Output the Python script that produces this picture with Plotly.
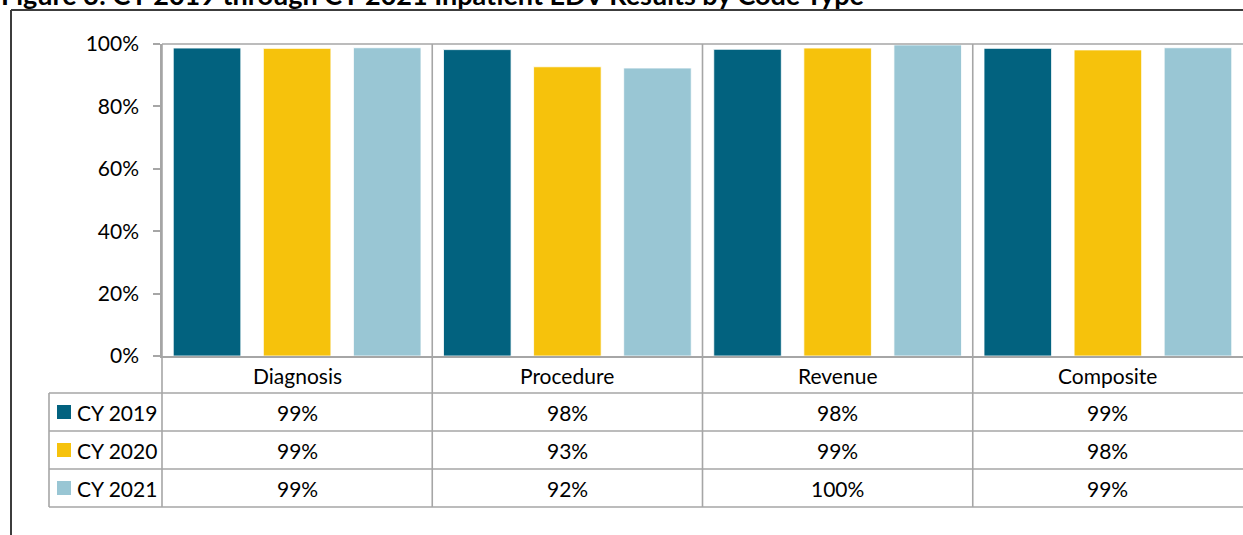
import plotly.graph_objects as go

# data
categories = ["Diagnosis", "Procedure", "Revenue", "Composite"]
series_names = ["CY 2019", "CY 2020", "CY 2021"]
cy2019 = [98.7, 98.2, 98.3, 98.6]
cy2020 = [98.6, 92.7, 98.7, 98.1]
cy2021 = [98.8, 92.3, 99.7, 98.8]
colors = ["#02627F", "#F6C20C", "#99C6D4"]
title = "Figure 3: CY 2019 through CY 2021 Inpatient EDV Results by Code Type"

W, H = 1243, 535
L, R, T, B = 162, 0, 44, 356   # plot area in pixels
FONT = "Lato"
FS = 21
GRID = "#A6A6A6"


def px(x):
    return (x - L) / (W - R - L)


def py(y):
    return (B - y) / (B - T)


fig = go.Figure()
all_series = [cy2019, cy2020, cy2021]
for name, vals, col in zip(series_names, all_series, colors):
    fig.add_trace(go.Bar(
        x=categories, y=[v / 100 for v in vals], name=name,
        marker=dict(color=col, line=dict(color="white", width=0.8)),
        showlegend=False,
    ))

shapes = []
line = dict(color=GRID, width=1.6)
# top line of plot at 100%
shapes.append(dict(type="line", xref="paper", yref="paper", x0=0, x1=1, y0=1, y1=1, line=line))
# left axis extended down through table
shapes.append(dict(type="line", xref="paper", yref="paper", x0=0, x1=0, y0=1, y1=py(507), line=line))
# category separators
for i in range(len(categories) - 1):
    shapes.append(dict(type="line", xref="x", yref="paper", x0=i + 0.5, x1=i + 0.5,
                       y0=1, y1=py(507), line=line))
# table rows
for yy in [393, 431, 469, 507]:
    shapes.append(dict(type="line", xref="paper", yref="paper", x0=px(49), x1=1,
                       y0=py(yy), y1=py(yy), line=line))
shapes.append(dict(type="line", xref="paper", yref="paper", x0=px(49), x1=px(49),
                   y0=py(393), y1=py(507), line=line))
# outer frame
frame = dict(color="#3C3C3C", width=2)
shapes.append(dict(type="line", xref="paper", yref="paper", x0=px(11), x1=1.01,
                   y0=py(10), y1=py(10), line=frame))
shapes.append(dict(type="line", xref="paper", yref="paper", x0=px(11), x1=px(11),
                   y0=py(10), y1=py(540), line=frame))

txt = dict(family=FONT, size=FS, color="black")
annotations = []
# header row
for c in categories:
    annotations.append(dict(x=c, y=py(375), xref="x", yref="paper", text=c, showarrow=False,
                            xanchor="center", yanchor="middle", font=txt))
row_y = [412, 450, 488]
for name, vals, col, ry in zip(series_names, all_series, colors, row_y):
    shapes.append(dict(type="rect", xref="paper", yref="paper", x0=px(57), x1=px(71),
                       y0=py(ry - 7), y1=py(ry + 7), fillcolor=col, line=dict(width=0)))
    annotations.append(dict(x=px(75), y=py(ry), xref="paper", yref="paper", text=name,
                            showarrow=False, xanchor="left", yanchor="middle", font=txt))
    for c, v in zip(categories, vals):
        annotations.append(dict(x=c, y=py(ry), xref="x", yref="paper", text=f"{round(v)}%",
                                showarrow=False, xanchor="center", yanchor="middle", font=txt))
# title, mostly cut off at top
annotations.append(dict(x=px(-1), y=py(13), xref="paper", yref="paper", text=f"<b>{title}</b>",
                        showarrow=False, xanchor="left", yanchor="bottom",
                        font=dict(family=FONT, size=27, color="black")))

fig.update_layout(
    width=W, height=H,
    margin=dict(l=L, r=R, t=T, b=H - B),
    paper_bgcolor="white", plot_bgcolor="white",
    barmode="group", bargap=0, bargroupgap=0.25,
    shapes=shapes, annotations=annotations,
    xaxis=dict(range=[-0.5, 3.5], showticklabels=False, showgrid=False, zeroline=False,
               showline=True, linecolor=GRID, linewidth=1.6, ticks=""),
    yaxis=dict(range=[0, 1], tickformat=".0%", tickvals=[0, 0.2, 0.4, 0.6, 0.8, 1.0],
               showgrid=False, zeroline=False, showline=True, linecolor=GRID, linewidth=1.6,
               ticks="outside", ticklen=7, tickcolor=GRID, tickwidth=1.6,
               ticklabelstandoff=10, tickfont=txt),
    font=dict(family=FONT),
)

# page has a default 8px body margin; drop it so the figure fills the window
fig.write_html("out.html", config={"displayModeBar": False},
               post_script="document.body.style.margin='0';")
